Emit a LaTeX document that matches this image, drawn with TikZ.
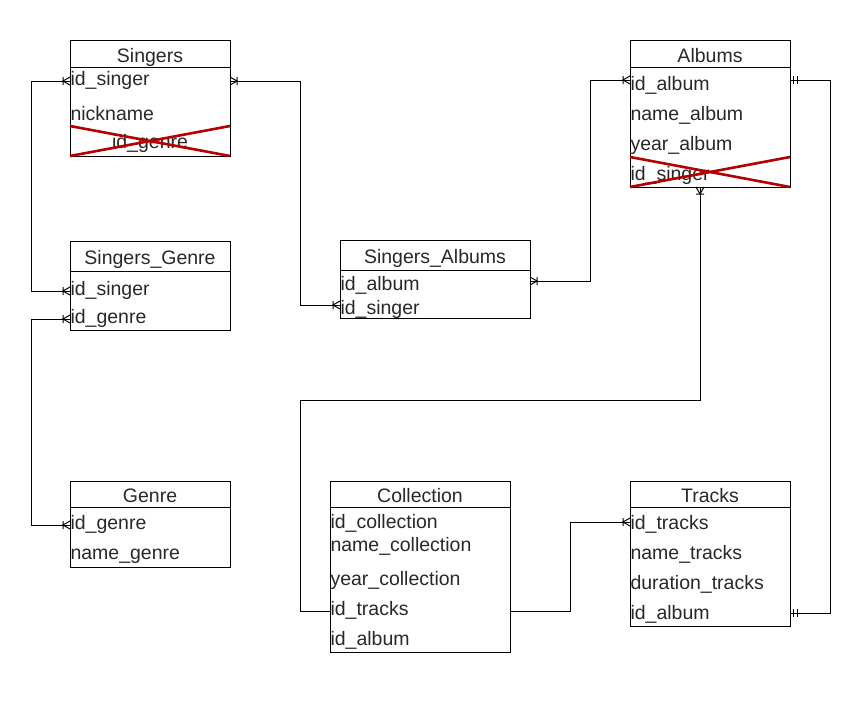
\documentclass[tikz,border=0pt]{standalone}
\usepackage{fontspec}
\setmainfont{Liberation Sans}
\usetikzlibrary{calc,positioning}
\usepackage{xcolor}
\definecolor{crossred}{RGB}{180,0,0}
\definecolor{txt}{RGB}{40,40,40}
\newcommand{\tabfont}{\fontsize{19.5}{22}\selectfont}

\pgfdeclarearrow{
  name = crowbar,
  setup code = {
    \pgfarrowssettipend{0pt}
    \pgfarrowssetlineend{0pt}
    \pgfarrowssetbackend{-7.5pt}
    \pgfarrowshullpoint{0pt}{4.5pt}
    \pgfarrowshullpoint{0pt}{-4.5pt}
    \pgfarrowshullpoint{-7.5pt}{4.5pt}
    \pgfarrowshullpoint{-7.5pt}{-4.5pt}
  },
  drawing code = {
    \pgfsetdash{}{0pt}
    \pgfpathmoveto{\pgfqpoint{0pt}{4pt}}
    \pgfpathlineto{\pgfqpoint{-7pt}{0pt}}
    \pgfpathlineto{\pgfqpoint{0pt}{-4pt}}
    \pgfpathmoveto{\pgfqpoint{-7pt}{4pt}}
    \pgfpathlineto{\pgfqpoint{-7pt}{-4pt}}
    \pgfusepathqstroke
  }
}
\pgfdeclarearrow{
  name = onebar,
  setup code = {
    \pgfarrowssettipend{0pt}
    \pgfarrowssetlineend{0pt}
    \pgfarrowssetbackend{-7.5pt}
    \pgfarrowshullpoint{0pt}{4pt}
    \pgfarrowshullpoint{0pt}{-4pt}
    \pgfarrowshullpoint{-7.5pt}{4pt}
    \pgfarrowshullpoint{-7.5pt}{-4pt}
  },
  drawing code = {
    \pgfsetdash{}{0pt}
    \pgfpathmoveto{\pgfqpoint{-3.5pt}{4pt}}
    \pgfpathlineto{\pgfqpoint{-3.5pt}{-4pt}}
    \pgfpathmoveto{\pgfqpoint{-7pt}{4pt}}
    \pgfpathlineto{\pgfqpoint{-7pt}{-4pt}}
    \pgfusepathqstroke
  }
}

\tikzset{
  head/.style={draw, inner sep=0pt, outer sep=0pt, anchor=north west, text height=17pt, text depth=0pt, font=\tabfont, text=txt},
  body/.style={draw, inner sep=0pt, outer sep=0pt, anchor=north west},
  field/.style={anchor=base west, inner sep=0pt, text height=12pt, text depth=4pt, font=\tabfont, text=txt},
  link/.style={line width=1pt},
  cross/.style={crossred, line width=2.6pt},
}

\begin{document}
\begin{tikzpicture}[x=1pt, y=-1pt, line width=1pt]
		\useasboundingbox (0,0) rectangle (849,724);

		% Singers
		\node [head, minimum width=160pt, minimum height=27pt] (singers) at (70,40) {Singers};
		\node [body, minimum width=160pt, minimum height=89pt] (singers-b) at (singers.south west) {};
		\node [field] (sing-id) at (70,85) {id\_singer};
		\node [field] (sing-nick) at (70,120) {nickname};
		\node [field, anchor=base] (sing-genre) at (150,148) {id\_genre};
		\draw [cross] (singers-b.south west) -- ([yshift=30pt]singers-b.south east);
		\draw [cross] (singers-b.south east) -- ([yshift=30pt]singers-b.south west);

		% Albums
		\node [head, minimum width=160pt, minimum height=27pt] (albums) at (630,40) {Albums};
		\node [body, minimum width=160pt, minimum height=120pt] (albums-b) at (albums.south west) {};
		\node [field] (alb-id) at (630,90) {id\_album};
		\node [field] (alb-name) at (630,120) {name\_album};
		\node [field] (alb-year) at (630,150) {year\_album};
		\node [field] (alb-singer) at (630,180) {id\_singer};
		\draw [cross] (albums-b.south west) -- ([yshift=30pt]albums-b.south east);
		\draw [cross] (albums-b.south east) -- ([yshift=30pt]albums-b.south west);

		% Singers_Genre
		\node [head, minimum width=160pt, minimum height=30pt] (sg) at (70,241) {Singers\_Genre};
		\node [body, minimum width=160pt, minimum height=59pt] (sg-b) at (sg.south west) {};
		\node [field] (sg-singer) at (70,295) {id\_singer};
		\node [field] (sg-genre) at (70,323) {id\_genre};

		% Singers_Albums
		\node [head, minimum width=190pt, minimum height=30pt] (sa) at (340,240) {Singers\_Albums};
		\node [body, minimum width=190pt, minimum height=48pt] (sa-b) at (sa.south west) {};
		\node [field] (sa-album) at (340,290) {id\_album};
		\node [field] (sa-singer) at (340,314) {id\_singer};

		% Genre
		\node [head, minimum width=160pt, minimum height=26pt] (genre) at (70,481) {Genre};
		\node [body, minimum width=160pt, minimum height=60pt] (genre-b) at (genre.south west) {};
		\node [field] (gen-id) at (70,529) {id\_genre};
		\node [field] (gen-name) at (70,559) {name\_genre};

		% Collection
		\node [head, minimum width=180pt, minimum height=26pt] (coll) at (330,481) {Collection};
		\node [body, minimum width=180pt, minimum height=145pt] (coll-b) at (coll.south west) {};
		\node [field] (col-id) at (330,528) {id\_collection};
		\node [field] (col-name) at (330,551) {name\_collection};
		\node [field] (col-year) at (330,585) {year\_collection};
		\node [field] (col-tracks) at (330,615) {id\_tracks};
		\node [field] (col-album) at (330,645) {id\_album};

		% Tracks
		\node [head, minimum width=160pt, minimum height=26pt] (tracks) at (630,481) {Tracks};
		\node [body, minimum width=160pt, minimum height=119pt] (tracks-b) at (tracks.south west) {};
		\node [field] (trk-id) at (630,529) {id\_tracks};
		\node [field] (trk-name) at (630,559) {name\_tracks};
		\node [field] (trk-dur) at (630,589) {duration\_tracks};
		\node [field] (trk-album) at (630,619) {id\_album};

		\draw [link, arrows={crowbar-crowbar}] (sing-id.west) -- ++(-39,0) |- (sg-singer.west);
		\draw [link, arrows={crowbar-crowbar}] (sing-id.west -| singers-b.east) -- ++(70,0) |- ([yshift=5pt]sa-singer.west);
		\draw [link, arrows={crowbar-crowbar}] ([yshift=6pt]alb-id.west) -- ++(-40,0) |- ([yshift=5pt]sa-album.west -| sa-b.east);
		\draw [link, arrows={crowbar-}] ([xshift=-10pt]albums-b.south) -- ++(0,213) -| ([xshift=-30pt]col-tracks.west) -- (col-tracks.west);
		\draw [link, arrows={onebar-onebar}] ([yshift=6pt]alb-id.west -| albums-b.east) -- ++(40,0) |- ([yshift=2pt]trk-album.west -| tracks-b.east);
		\draw [link, arrows={-crowbar}] (col-tracks.west -| coll-b.east) -- ++(60,0) |- ([yshift=3pt]trk-id.west);
		\draw [link, arrows={crowbar-crowbar}] (sg-genre.west) -- ++(-39,0) |- (gen-id.west);
\end{tikzpicture}
\end{document}
